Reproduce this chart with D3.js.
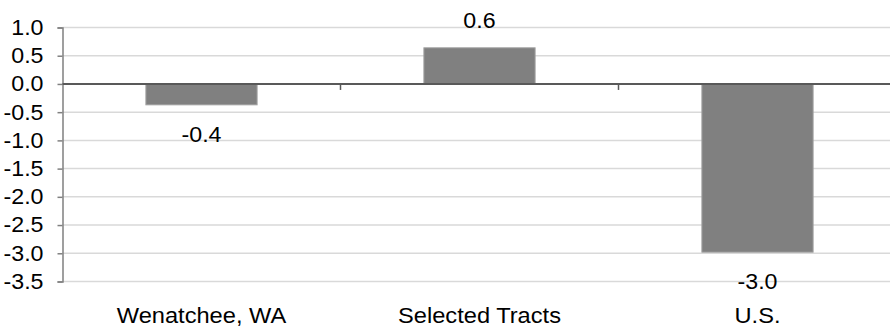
<!DOCTYPE html>
<html>
<head>
<meta charset="utf-8">
<script src="https://cdn.jsdelivr.net/npm/d3@7"></script>
<style>
  html, body { margin: 0; padding: 0; background: #fff; }
  svg { display: block; font-family: "Liberation Sans", Arial, sans-serif; }
</style>
</head>
<body>
<svg id="chart" width="890" height="327"></svg>
<script>
// Change values by area
const categories = ["Wenatchee, WA", "Selected Tracts", "U.S."];
const values = [-0.37, 0.64, -2.98];
const yTicks = [1.0, 0.5, 0.0, -0.5, -1.0, -1.5, -2.0, -2.5, -3.0, -3.5];

const svg = d3.select("#chart");
const plotLeft = 62.5, plotRight = 896.5, plotTop = 27.5, plotBottom = 281.5;
const fontSize = 21.5;
const stretch = 1.08; // slightly wide lettering
const fmt = d => d3.format(".1f")(d).replace("\u2212", "-");

const y = d3.scaleLinear().domain([-3.5, 1.0]).range([plotBottom, plotTop]);
const x = d3.scaleBand().domain(categories).range([plotLeft, plotRight])
  .paddingInner(0.6).paddingOuter(0.3);
const step = x.step();

// horizontal gridlines
svg.append("g").selectAll("line").data(yTicks.filter(d => d !== 0)).join("line")
  .attr("x1", plotLeft).attr("x2", 890)
  .attr("y1", d => y(d)).attr("y2", d => y(d))
  .attr("stroke", "#d9d9d9").attr("stroke-width", 1.5);

// y axis
const yAxis = svg.append("g")
  .attr("transform", `translate(${plotLeft},0)`)
  .call(d3.axisLeft(y).tickValues(yTicks).tickFormat(fmt).tickSize(5).tickPadding(14));
yAxis.select(".domain").attr("stroke", "#808080").attr("stroke-width", 1.5);
yAxis.selectAll(".tick line").attr("stroke", "#808080").attr("stroke-width", 1.5);
yAxis.selectAll(".tick text")
  .attr("font-size", fontSize).attr("fill", "#000")
  .attr("font-family", "Liberation Sans, Arial, sans-serif")
  .attr("x", -19 / stretch)
  .attr("transform", `scale(${stretch},1)`);

// bars
svg.append("g").selectAll("rect").data(values).join("rect")
  .attr("x", (d, i) => x(categories[i]))
  .attr("width", x.bandwidth())
  .attr("y", d => y(Math.max(0, d)))
  .attr("height", d => Math.abs(y(d) - y(0)))
  .attr("fill", "#808080")
  .attr("stroke", "#a0a0a0").attr("stroke-width", 1);

// zero line with category separators
svg.append("line")
  .attr("x1", plotLeft).attr("x2", 890)
  .attr("y1", y(0)).attr("y2", y(0))
  .attr("stroke", "#595959").attr("stroke-width", 2);
svg.append("g").selectAll("line").data(categories.slice(1)).join("line")
  .attr("x1", d => x(d) - step * 0.3).attr("x2", d => x(d) - step * 0.3)
  .attr("y1", y(0)).attr("y2", y(0) + 6)
  .attr("stroke", "#595959").attr("stroke-width", 1.5);

// value labels
svg.append("g").selectAll("text").data(values).join("text")
  .attr("transform", (d, i) =>
    `translate(${x(categories[i]) + x.bandwidth() / 2},${d >= 0 ? y(d) - 19.5 : y(d) + 37}) scale(${stretch},1)`)
  .attr("text-anchor", "middle")
  .attr("font-size", fontSize).attr("fill", "#000")
  .text(fmt);

// category labels
svg.append("g").selectAll("text").data(categories).join("text")
  .attr("transform", d => `translate(${x(d) + x.bandwidth() / 2},322.7) scale(${stretch + 0.02},1)`)
  .attr("text-anchor", "middle")
  .attr("font-size", fontSize).attr("fill", "#000")
  .text(d => d);
</script>
</body>
</html>
